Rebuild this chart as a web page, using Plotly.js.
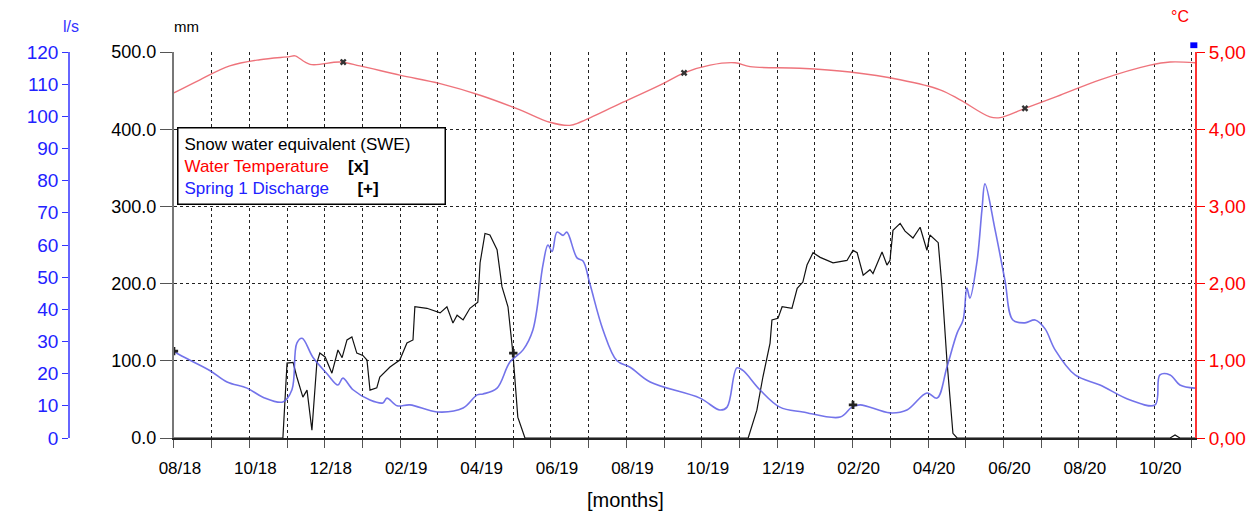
<!DOCTYPE html>
<html>
<head>
<meta charset="utf-8">
<script src="https://cdn.plot.ly/plotly-3.0.1.min.js"></script>
<style>body{margin:0;background:#fff}#plot{width:1259px;height:516px}</style>
</head>
<body>
<div id="plot"></div>
<script>
// x values: months since 08/2018
const monthLabels = ["08/18","","10/18","","12/18","","02/19","","04/19","","06/19","","08/19","","10/19","","12/19","","02/20","","04/20","","06/20","","08/20","","10/20",""];

const sweMonths = [0,2.89,3.00,3.16,3.26,3.42,3.53,3.66,3.79,3.87,4.01,4.19,4.35,4.46,4.59,4.72,4.85,5.01,5.12,5.20,5.38,5.46,5.73,5.99,6.18,6.34,6.39,6.71,7.06,7.24,7.40,7.51,7.67,7.85,8.06,8.12,8.25,8.38,8.57,8.70,8.86,8.99,9.12,9.26,9.31,15.23,15.46,15.62,15.81,15.86,16.02,16.13,16.39,16.53,16.68,16.79,16.95,17.14,17.48,17.85,18.01,18.12,18.28,18.46,18.54,18.78,18.91,18.99,19.07,19.26,19.39,19.60,19.79,19.97,20.05,20.27,20.37,20.50,20.66,20.77,26.42,26.55,26.68,27.08];
const sweMm = [0,0,97,98,79,53,62,10,97,110,105,84,114,104,127,131,110,107,101,62,65,79,92,101,123,127,170,168,162,170,149,159,153,168,176,227,265,263,244,196,170,110,27,6,0,0,36,79,123,153,155,170,168,194,202,224,240,234,227,230,243,240,211,218,213,241,224,230,269,278,268,259,273,243,263,253,196,101,6,0,0,4,0,0];

const qMonths = [0,0.16,0.95,1.41,1.94,2.36,2.89,3.13,3.26,3.40,3.69,4.06,4.35,4.48,4.75,5.20,5.54,5.65,5.92,6.26,6.98,7.67,8.04,8.20,8.57,8.91,9.26,9.52,9.79,9.92,10.03,10.16,10.32,10.42,10.69,10.85,11.03,11.38,11.75,12.10,12.63,13.95,14.48,14.67,14.93,15.09,15.54,16.07,16.68,17.67,17.98,18.20,18.99,19.44,19.97,20.24,20.50,20.77,20.93,21.03,21.11,21.30,21.43,21.51,21.78,22.04,22.25,22.57,22.84,23.10,23.37,23.90,24.56,25.36,26.02,26.15,26.42,26.68,27.08];
const qLs = [27,25.8,21,17.4,15.5,12.7,11.2,15,29.5,31,25,20,16.5,18.6,15,11.8,10.9,12.4,10,10.3,8.1,9.3,13.4,13.7,15.5,23.6,27.4,33.6,54,60,58,64,63,64,56,55,48,33.6,24,22,17.4,12.4,8.7,9.6,21.8,21,15,9.6,8.1,6.5,9.6,10.3,7.8,8.7,14,12.4,22,32.6,36.7,46.6,43.5,55,71,79,64.6,49,36.7,35.8,36.7,34,27.4,19.6,16.5,11.8,10.3,19.6,19.6,16.5,15.5];

const tMonths = [0,0.69,1.48,2.28,3.07,3.21,3.61,4.41,4.93,5.99,7.06,8.12,9.18,9.97,10.50,10.77,11.83,12.89,13.53,14.22,14.88,15.28,16.60,17.93,19.26,20.32,20.85,21.64,21.91,22.57,23.50,24.56,25.89,26.42,27.08];
const tC = [4.47,4.64,4.82,4.90,4.94,4.95,4.84,4.87,4.82,4.70,4.59,4.44,4.25,4.09,4.05,4.09,4.33,4.57,4.73,4.83,4.86,4.81,4.79,4.74,4.64,4.51,4.38,4.16,4.15,4.27,4.44,4.64,4.83,4.87,4.86];

const tMarkMonths = [4.49,13.53,22.57];
const tMarkC = [4.87,4.73,4.27];
const qMarkMonths = [0,9.0,18.01];
const qMarkLs = [27,26.4,10.3];

const font = "Liberation Sans, Arial, sans-serif";
const traces = [
  {x: sweMonths, y: sweMm, mode: "lines", line: {color: "#111", width: 1.2}, yaxis: "y"},
  {x: qMonths, y: qLs, mode: "lines", line: {color: "rgba(90,90,230,0.85)", width: 1.6, shape: "spline"}, yaxis: "y2"},
  {x: tMonths, y: tC, mode: "lines", line: {color: "rgba(235,90,100,0.85)", width: 1.4, shape: "spline"}, yaxis: "y3"},
  {x: tMarkMonths, y: tMarkC, mode: "markers", marker: {symbol: "x", size: 6, color: "#333"}, yaxis: "y3"},
  {x: qMarkMonths, y: qMarkLs, mode: "markers", marker: {symbol: "cross", size: 7, color: "#222"}, yaxis: "y2"}
];

const layout = {
  width: 1259, height: 516,
  margin: {l: 20, r: 64, t: 52, b: 78},
  paper_bgcolor: "#fff", plot_bgcolor: "#fff",
  showlegend: false,
  font: {family: font, size: 16, color: "#000"},
  xaxis: {
    domain: [0.131, 1], range: [0, 27.08],
    tickvals: monthLabels.map((_, i) => i), ticktext: monthLabels,
    ticks: "outside", ticklen: 8, tickcolor: "#555",
    ticklabelshift: 6, ticklabelstandoff: 6,
    showgrid: true, gridcolor: "#222", griddash: "dot", gridwidth: 1,
    showline: true, linecolor: "#222", linewidth: 1.5,
    zeroline: false, tickfont: {size: 17}
  },
  yaxis: {
    range: [0, 500], tickvals: [0,100,200,300,400,500],
    ticktext: ["0.0","100.0","200.0","300.0","400.0","500.0"],
    ticks: "outside", ticklen: 12, tickcolor: "#555",
    showline: true, linecolor: "#777", linewidth: 2,
    showgrid: true, gridcolor: "#222", griddash: "dot",
    zeroline: false, tickfont: {size: 18}
  },
  yaxis2: {
    overlaying: "y", side: "left", anchor: "free", position: 0.041,
    range: [0, 120], dtick: 10, ticks: "outside", ticklen: 6, tickcolor: "#33f",
    showline: true, linecolor: "#66f", linewidth: 1.5, showgrid: false, zeroline: false,
    tickfont: {size: 19, color: "#22f"}
  },
  yaxis3: {
    overlaying: "y", side: "right", anchor: "x",
    range: [0, 5], tickvals: [0,1,2,3,4,5],
    ticktext: ["0,00","1,00","2,00","3,00","4,00","5,00"],
    ticks: "outside", ticklen: 8, tickcolor: "#f00",
    showline: true, linecolor: "#f33", linewidth: 2, showgrid: false, zeroline: false,
    tickfont: {size: 19, color: "#f00"}
  },
  annotations: [
    {xref: "paper", yref: "paper", x: 0.043, y: 1.04, xanchor: "center", yanchor: "bottom", text: "l/s", showarrow: false, font: {size: 16, color: "#33f"}},
    {xref: "paper", yref: "paper", x: 0.129, y: 1.04, xanchor: "left", yanchor: "bottom", text: "mm", showarrow: false, font: {size: 15}},
    {xref: "paper", yref: "paper", x: 0.987, y: 1.065, xanchor: "center", yanchor: "bottom", text: "°C", showarrow: false, font: {size: 16, color: "#f00"}},
    {xref: "paper", yref: "paper", x: 0.515, y: -0.16, xanchor: "center", yanchor: "middle", text: "[months]", showarrow: false, font: {size: 20}},
    {xref: "paper", yref: "paper", x: 0.134, y: 0.806, xanchor: "left", yanchor: "top", align: "left",
     text: "Snow water equivalent (SWE)      <br><span style='color:#f00'>Water Temperature</span>    <b>[x]</b><br><span style='color:#22f'>Spring 1 Discharge</span>      <b>[+]</b>",
     showarrow: false, bgcolor: "#fff", bordercolor: "#000", borderwidth: 1.5, borderpad: 6, font: {size: 17}}
  ],
  shapes: [
    {type: "rect", xref: "paper", yref: "paper", x0: 0.996, x1: 1.002, y0: 1.01, y1: 1.025, fillcolor: "#00f", line: {width: 0}}
  ]
};

Plotly.newPlot("plot", traces, layout, {displayModeBar: false, staticPlot: true});
</script>
</body>
</html>
